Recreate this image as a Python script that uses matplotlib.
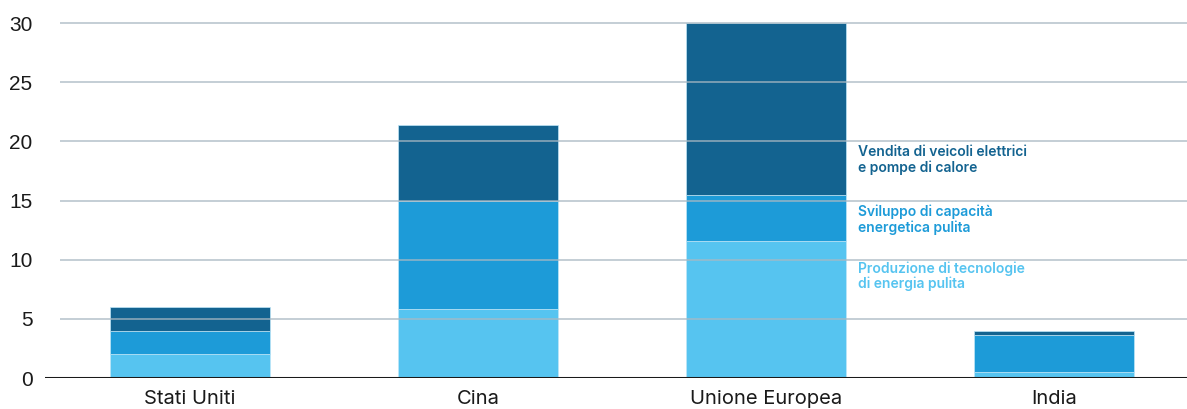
import numpy as np
import matplotlib.pyplot as plt

paesi = ['Stati Uniti', 'Cina', 'Unione Europea', 'India']
produzione = [2.0, 5.8, 11.6, 0.5]
sviluppo = [2.0, 9.2, 3.9, 3.1]
vendita = [2.0, 6.4, 14.5, 0.4]
yticks = [0, 5, 10, 15, 20, 25, 30]

col_light = '#56c4f0'
col_mid = '#1d9bd8'
col_dark = '#136390'

fig = plt.figure(figsize=(11.87, 4.09), dpi=100)
ax = fig.add_axes([45 / 1187, 31 / 409, 1 - 45 / 1187, (378 - 17.1) / 409])

x = np.arange(len(paesi))
w = 0.556
b1 = np.array(produzione)
b2 = b1 + np.array(sviluppo)
ax.bar(x, produzione, w, color=col_light, edgecolor='#bfe6f7', linewidth=0.5, zorder=2)
ax.bar(x, sviluppo, w, bottom=b1, color=col_mid, edgecolor='#bfe6f7', linewidth=0.5, zorder=2)
ax.bar(x, vendita, w, bottom=b2, color=col_dark, edgecolor='#bfe6f7', linewidth=0.5, zorder=2)

xl = (-145 / 288, (1187 - 190) / 288)
ax.set_xlim(*xl)
ax.set_ylim(0, 30.5)

# griglia sopra le barre, parte un po' a destra della linea di base
ax.hlines([t for t in yticks if t > 0], -0.452, xl[1], color='#a9b8c2', lw=1.2, alpha=0.8, zorder=3)
ax.axhline(0, color='#1a1a1a', lw=2.2, zorder=4)

for s in ax.spines.values():
    s.set_visible(False)
ax.set_yticks(yticks)
ax.set_yticklabels([str(t) for t in yticks], fontsize=15, family='Liberation Sans', color='#1a1a1a')
ax.set_xticks(x)
ax.set_xticklabels(paesi, fontsize=14.5, family='Inter', color='#1a1a1a')
ax.tick_params(axis='both', length=0)
ax.tick_params(axis='y', pad=9)
ax.tick_params(axis='x', pad=9)

tx = (858 - 190) / 288
kw = dict(fontsize=10, family='Inter', fontweight='semibold', va='center', linespacing=1.1)
ax.text(tx, 18.4, 'Vendita di veicoli elettrici\ne pompe di calore', color=col_dark, **kw)
ax.text(tx, 13.4, 'Sviluppo di capacità\nenergetica pulita', color=col_mid, **kw)
ax.text(tx, 8.6, 'Produzione di tecnologie\ndi energia pulita', color=col_light, **kw)

fig.savefig('out.png', dpi=100)
